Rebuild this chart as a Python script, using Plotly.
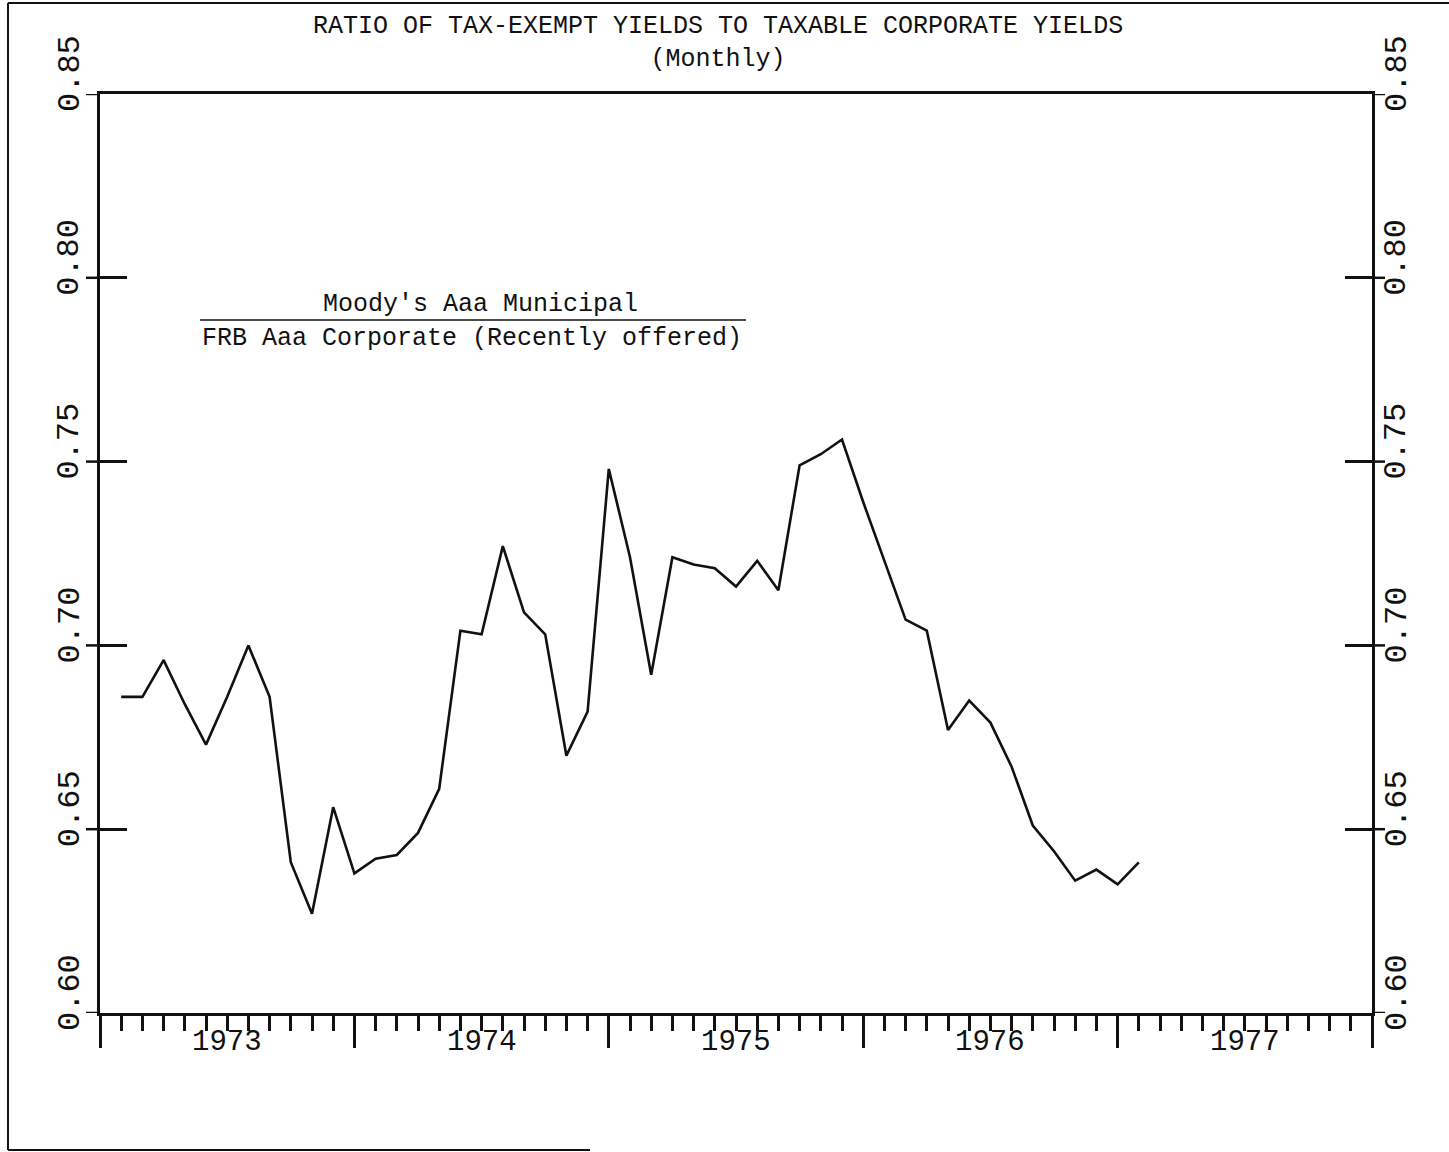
import plotly.graph_objects as go

# Monthly ratio: Moody's Aaa municipal yield / FRB Aaa corporate (recently offered) yield
month_index = list(range(1, 50))  # months after the start of 1973
ratio = [
    0.686, 0.686, 0.696, 0.684, 0.673, 0.686, 0.700, 0.686, 0.641, 0.627,
    0.656, 0.638, 0.642, 0.643, 0.649, 0.661, 0.704, 0.703, 0.727, 0.709,
    0.703, 0.670, 0.682, 0.748, 0.724, 0.692, 0.724, 0.722, 0.721, 0.716,
    0.723, 0.715, 0.749, 0.752, 0.756, 0.739, 0.723, 0.707, 0.704, 0.677,
    0.685, 0.679, 0.667, 0.651, 0.644, 0.636, 0.639, 0.635, 0.641,
]

year_labels = ["1973", "1974", "1975", "1976", "1977"]
y_ticks = [0.60, 0.65, 0.70, 0.75, 0.80, 0.85]
y_tick_text = ["0.60", "0.65", "0.70", "0.75", "0.80", "0.85"]

title_line1 = "RATIO OF TAX-EXEMPT YIELDS TO TAXABLE CORPORATE YIELDS"
title_line2 = "(Monthly)"
numerator_text = "Moody's Aaa Municipal"
denominator_text = "FRB Aaa Corporate (Recently offered)"

# page geometry in pixels
W, H = 1449, 1152
L, R, T, B = 100, 1372, 94, 1013


def px_x(px):
    return (px - L) / (R - L)


def px_y(py):
    return (B - py) / (B - T)


FONT = "Liberation Mono"
INK = "#111111"
LW = 2.5

n_years = len(year_labels)
year_bounds = [12 * i for i in range(n_years + 1)]

fig = go.Figure()
fig.add_trace(go.Scatter(
    x=month_index, y=ratio, mode="lines",
    line=dict(color=INK, width=2.6),
    hoverinfo="x+y", showlegend=False,
))

fig.update_xaxes(
    range=[0, 12 * n_years], tickvals=year_bounds, showticklabels=False,
    ticks="outside", ticklen=32, tickwidth=LW, tickcolor=INK,
    minor=dict(dtick=1, tick0=0, ticks="outside", ticklen=15,
               tickwidth=LW, tickcolor=INK),
    showline=True, linewidth=LW, linecolor=INK, mirror=True,
    showgrid=False, zeroline=False,
)
fig.update_yaxes(
    range=[y_ticks[0], y_ticks[-1]], tickvals=y_ticks, showticklabels=False,
    ticks="inside", ticklen=27, tickwidth=LW, tickcolor=INK,
    showline=True, linewidth=LW, linecolor=INK, mirror="allticks",
    showgrid=False, zeroline=False,
)

shapes = []
annotations = []


def label(text, x, y, size, xref="paper", yref="paper", **kw):
    annotations.append(dict(
        text=text, x=x, y=y, xref=xref, yref=yref,
        xanchor="center", yanchor="middle", showarrow=False,
        font=dict(family=FONT, size=size, color=INK), **kw,
    ))


# short tick stubs outside both vertical axes
for v in y_ticks:
    shapes.append(dict(type="line", xref="paper", yref="y",
                       x0=px_x(86), x1=0, y0=v, y1=v,
                       line=dict(color=INK, width=LW)))
    shapes.append(dict(type="line", xref="paper", yref="y",
                       x0=1, x1=px_x(1385), y0=v, y1=v,
                       line=dict(color=INK, width=LW)))

# rotated value labels on both sides
for v, t in zip(y_ticks, y_tick_text):
    for xp in (px_x(70), px_x(1397)):
        label(t, xp, v, 32, yref="y", yshift=20, textangle=-90)

# year labels centred within each year
for i, lab in enumerate(year_labels):
    label(lab, 12 * i + 6, px_y(1042), 29, xref="x")

# two-line title
label(title_line1 + "<br>" + title_line2, px_x(718), px_y(43), 25)

# series description written as a fraction
label(numerator_text, px_x(480), px_y(304), 25)
label(denominator_text, px_x(472), px_y(338), 25)
shapes.append(dict(type="line", xref="paper", yref="paper",
                   x0=px_x(200), x1=px_x(746), y0=px_y(320), y1=px_y(320),
                   line=dict(color=INK, width=1.5)))

# page frame
frame = dict(color=INK, width=2)
shapes.append(dict(type="line", xref="paper", yref="paper",
                   x0=px_x(8), x1=px_x(8), y0=px_y(3), y1=px_y(1150), line=frame))
shapes.append(dict(type="line", xref="paper", yref="paper",
                   x0=px_x(8), x1=px_x(1449), y0=px_y(3), y1=px_y(3), line=frame))
shapes.append(dict(type="line", xref="paper", yref="paper",
                   x0=px_x(8), x1=px_x(590), y0=px_y(1150), y1=px_y(1150), line=frame))

fig.update_layout(
    width=W, height=H,
    margin=dict(l=L, r=W - R, t=T, b=H - B, pad=0),
    paper_bgcolor="white", plot_bgcolor="white",
    shapes=shapes, annotations=annotations,
    font=dict(family=FONT, color=INK),
)

fig.write_html("out.html")
